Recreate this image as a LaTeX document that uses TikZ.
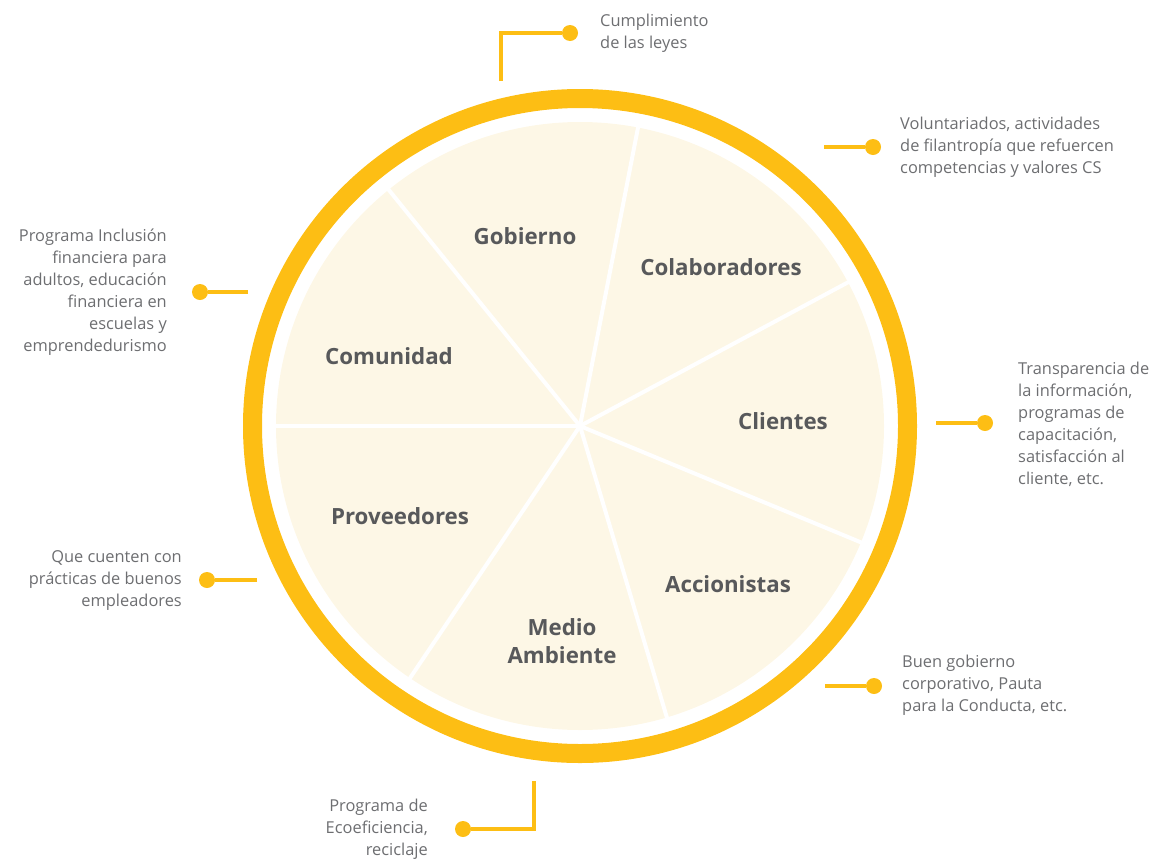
\documentclass[tikz,border=0pt]{standalone}
\usepackage{fontspec}
\setmainfont{Open Sans}
\definecolor{ringyellow}{HTML}{FDBE14}
\definecolor{piecream}{HTML}{FDF7E6}
\definecolor{labelgray}{HTML}{58595B}
\definecolor{notegray}{HTML}{6D6E71}
\begin{document}
\begin{tikzpicture}[x=1pt,y=-1pt,
  sector/.style={font=\bfseries\fontsize{22.3}{28}\selectfont, text=labelgray, align=center, inner sep=0pt},
  note/.style={font=\fontsize{16.4}{22}\selectfont, text=notegray, inner sep=0pt},
  lead/.style={draw=ringyellow, line width=4pt},
  dot/.style={circle, fill=ringyellow, minimum size=16pt, inner sep=0pt}]
\useasboundingbox (0,0) rectangle (1151,860);
\coordinate (c) at (580,426);

% pie body, sector dividers and outer ring
\fill[piecream] (c) circle[radius=304pt];
\foreach \a in {79,129,180,236,286.6,337.5,28.2}
  \draw[white, line width=4pt] (c) -- ++(\a:306pt);
\draw[ringyellow, line width=19pt] (c) circle[radius=327.5pt];

% stakeholder labels
\node[sector] (gob) at (525,236) {Gobierno};
\node[sector] (col) at (721,267) {Colaboradores};
\node[sector] (cli) at (783,421) {Clientes};
\node[sector] (acc) at (728,584) {Accionistas};
\node[sector] (med) at (562,641) {Medio\\Ambiente};
\node[sector] (pro) at (400,516) {Proveedores};
\node[sector] (com) at (389,356) {Comunidad};

% notes with their leader lines
\node[note, anchor=west, align=left] (n1) at (600,33) {Cumplimiento\\de las leyes};
\node[dot] (d1) at (570,33) {};
\coordinate (s1) at (501,81);
\draw[lead] (s1) |- (d1);

\node[note, anchor=west, align=left] (n2) at (900,147) {Voluntariados, actividades\\de filantropía que refuercen\\competencias y valores CS};
\node[dot] (d2) at (873,147) {};
\coordinate (s2) at (824,147);
\draw[lead] (s2) -- (d2);

\node[note, anchor=west, align=left] (n3) at (1018,424) {Transparencia de\\la información,\\programas de\\capacitación,\\satisfacción al\\cliente, etc.};
\node[dot] (d3) at (985,423) {};
\coordinate (s3) at (936,423);
\draw[lead] (s3) -- (d3);

\node[note, anchor=west, align=left] (n4) at (902,685) {Buen gobierno\\corporativo, Pauta\\para la Conducta, etc.};
\node[dot] (d4) at (874,686) {};
\coordinate (s4) at (825,686);
\draw[lead] (s4) -- (d4);

\node[note, anchor=east, align=right] (n5) at (428,829) {Programa de\\Ecoeficiencia,\\reciclaje};
\node[dot] (d5) at (463,829) {};
\coordinate (s5) at (534,781);
\draw[lead] (s5) |- (d5);

\node[note, anchor=east, align=right] (n6) at (182,581) {Que cuenten con\\prácticas de buenos\\empleadores};
\node[dot] (d6) at (207,580) {};
\coordinate (s6) at (257,580);
\draw[lead] (s6) -- (d6);

\node[note, anchor=east, align=right] (n7) at (167,292) {Programa Inclusión\\financiera para\\adultos, educación\\financiera en\\escuelas y\\emprendedurismo};
\node[dot] (d7) at (200,292) {};
\coordinate (s7) at (248,292);
\draw[lead] (s7) -- (d7);
\end{tikzpicture}
\end{document}
